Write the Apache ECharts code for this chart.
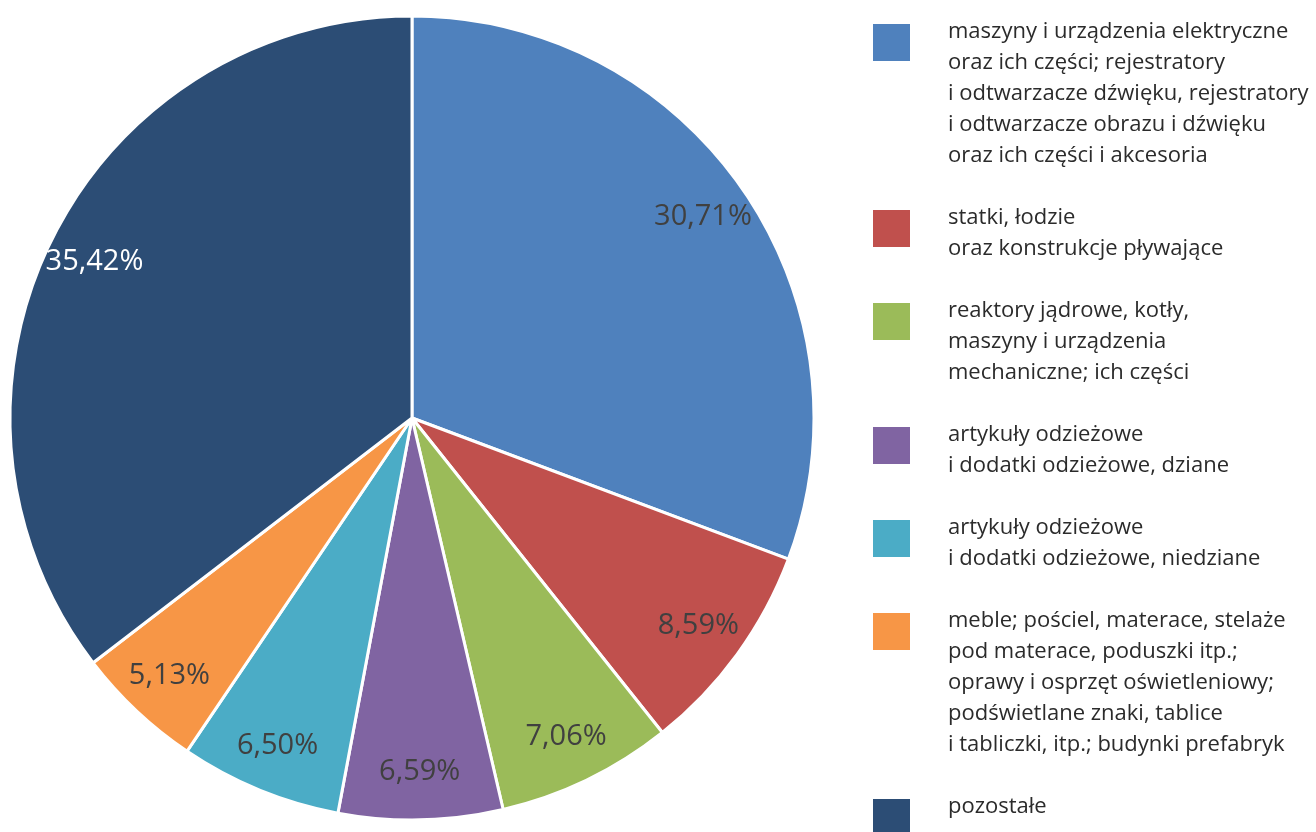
<!DOCTYPE html>
<html>
<head>
<meta charset="utf-8">
<script src="https://cdn.jsdelivr.net/npm/echarts@6/dist/echarts.min.js"></script>
<style>
  html, body { margin: 0; padding: 0; background: #fff; }
  #chart { width: 1316px; height: 832px; }
</style>
</head>
<body>
<div id="chart"></div>
<script>
// dane
const names = [
  'maszyny i urządzenia elektryczne\noraz ich części; rejestratory\ni odtwarzacze dźwięku, rejestratory\ni odtwarzacze obrazu i dźwięku\noraz ich części i akcesoria',
  'statki, łodzie\noraz konstrukcje pływające',
  'reaktory jądrowe, kotły,\nmaszyny i urządzenia\nmechaniczne; ich części',
  'artykuły odzieżowe\ni dodatki odzieżowe, dziane',
  'artykuły odzieżowe\ni dodatki odzieżowe, niedziane',
  'meble; pościel, materace, stelaże\npod materace, poduszki itp.;\noprawy i osprzęt oświetleniowy;\npodświetlane znaki, tablice\ni tabliczki, itp.; budynki prefabryk',
  'pozostałe'
];
const values = [30.71, 8.59, 7.06, 6.59, 6.50, 5.13, 35.42];
const colors = ['#4f81bd', '#c0504d', '#9bbb59', '#8064a2', '#4bacc6', '#f79646', '#2c4d75'];
const labelColors = ['#404040', '#404040', '#404040', '#404040', '#404040', '#404040', '#ffffff'];

const FONT = '"Open Sans", "DejaVu Sans", sans-serif';
const LH = 31;      // wysokość linii legendy
const ICON = 37;    // rozmiar kwadratu
const FIRST = 8;    // środek pierwszej linii względem góry kwadratu

let myChart = echarts.init(document.getElementById('chart'));

// jedna legenda na pozycję, żeby kwadrat był przy pierwszej linii tekstu
// (tekst legendy jest centrowany na kwadracie, więc dokładamy pustą linię-odstęp)
let iconTop = 24;
const legends = names.map(function (name, i) {
  const n = name.split('\n').length;
  const d = 2 * (FIRST - ICON / 2 - LH / 2 + LH * n / 2);
  const hTop = Math.max(d, 0);
  const hBot = Math.max(-d, 0);
  const boxTop = Math.min(0, ICON / 2 - (LH * n + hTop + hBot) / 2);
  const lg = {
    data: [name],
    orient: 'vertical',
    left: 873,
    top: iconTop + boxTop,
    padding: 0,
    icon: 'rect',
    itemWidth: ICON,
    itemHeight: ICON,
    selectedMode: false,
    itemStyle: { borderWidth: 0 },
    formatter: function (nm) {
      let s = nm;
      if (hTop > 0) s = '{t| }\n' + s;
      if (hBot > 0) s = s + '\n{b| }';
      return s;
    },
    textStyle: {
      fontFamily: FONT,
      fontSize: 22,
      lineHeight: LH,
      color: '#2b2b2b',
      padding: [0, 0, 0, 33],
      rich: {
        t: { fontSize: 1, lineHeight: hTop },
        b: { fontSize: 1, lineHeight: hBot }
      }
    }
  };
  iconTop += (n + 1) * LH;
  return lg;
});

const pieData = names.map(function (name, i) {
  return { name: name, value: values[i], itemStyle: { color: colors[i] } };
});
const labelData = names.map(function (name, i) {
  return { name: name, value: values[i], label: { color: labelColors[i] } };
});

myChart.setOption({
  animation: false,
  legend: legends,
  series: [
    {
      type: 'pie',
      center: [412, 418],
      radius: 402,
      startAngle: 90,
      clockwise: true,
      silent: true,
      itemStyle: { borderColor: '#ffffff', borderWidth: 3 },
      label: { show: false },
      labelLine: { show: false },
      data: pieData
    },
    {
      // przezroczysta warstwa tylko na etykiety
      type: 'pie',
      center: [412, 418],
      radius: [300, 402],
      startAngle: 90,
      clockwise: true,
      silent: true,
      itemStyle: { color: 'rgba(0,0,0,0)' },
      label: {
        show: true,
        position: 'inside',
        fontFamily: FONT,
        fontSize: 29,
        formatter: function (p) {
          return p.value.toFixed(2).replace('.', ',') + '%';
        }
      },
      labelLine: { show: false },
      data: labelData
    }
  ]
});

window.onresize = function () {
  myChart.resize();
};
</script>
</body>
</html>
